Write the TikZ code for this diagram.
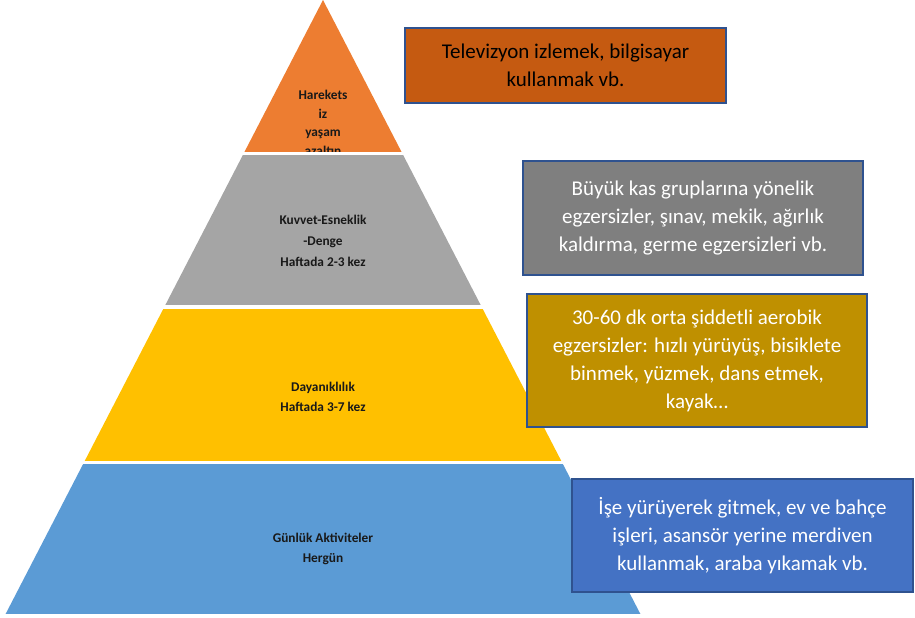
\documentclass[tikz,border=0pt]{standalone}
\usepackage{fontspec}
\setmainfont{Carlito}
\usepackage{xcolor}
\usepackage{tikz}

\definecolor{bandOrange}{HTML}{ED7D31}
\definecolor{bandGray}{HTML}{A5A5A5}
\definecolor{bandYellow}{HTML}{FFC000}
\definecolor{bandBlue}{HTML}{5B9BD5}
\definecolor{boxOrange}{HTML}{C55A11}
\definecolor{boxGray}{HTML}{7F7F7F}
\definecolor{boxGold}{HTML}{BF9000}
\definecolor{boxBlue}{HTML}{4472C4}
\definecolor{boxEdge}{HTML}{2F528F}

\begin{document}
\begin{tikzpicture}[x=0.75pt, y=-0.75pt,
  bandlabel/.style={align=center, font=\fontsize{10}{15}\selectfont\bfseries, text=black!90},
  infobox/.style={draw=boxEdge, line width=1.5pt, align=center, text=white,
    font=\fontsize{15.75}{21}\selectfont, inner sep=0pt}]
  \useasboundingbox (0,0) rectangle (915,618);
  \coordinate (apex) at (323,0);
  \coordinate (baseL) at (5.6,614);
  \coordinate (baseR) at (640.4,614);
  % pyramid bands
  \begin{scope}
    \clip (apex) -- (baseL) -- (baseR) -- cycle;
    \fill[bandOrange] (0,0) rectangle (915,151.5);
    \fill[bandGray] (0,155) rectangle (915,305);
    \fill[bandYellow] (0,309) rectangle (915,460.5);
    \fill[bandBlue] (0,463.5) rectangle (915,614);
  \end{scope}
  \begin{scope}
    \clip (0,0) rectangle (915,151.5);
    \node[bandlabel, font=\fontsize{10}{14}\selectfont\bfseries] (lblTop) at (323,123)
      {Harekets\\iz\\yaşam\\azaltın};
  \end{scope}
  \node[bandlabel, font=\fontsize{10}{15.75}\selectfont\bfseries] (lblStrength) at (323,241)
    {Kuvvet-Esneklik\\-Denge\\Haftada 2-3 kez};
  \node[bandlabel] (lblEndurance) at (323,397) {Dayanıklılık\\Haftada 3-7 kez};
  \node[bandlabel] (lblDaily) at (323,549) {Günlük Aktiviteler\\Hergün};
  % explanation boxes
  \node[infobox, fill=boxOrange, text=black, minimum width=240.75pt, minimum height=56.25pt]
    (boxTop) at (565.5,65.5) {Televizyon izlemek, bilgisayar\\kullanmak vb.};
  \node[infobox, fill=boxGray, minimum width=255pt, minimum height=85.5pt]
    (boxStrength) at (693,218) {Büyük kas gruplarına yönelik\\egzersizler, şınav, mekik, ağırlık\\kaldırma, germe egzersizleri vb.};
  \node[infobox, fill=boxGold, minimum width=255pt, minimum height=99.75pt]
    (boxEndurance) at (697,360.5) {30-60 dk orta şiddetli aerobik\\egzersizler: hızlı yürüyüş, bisiklete\\binmek, yüzmek, dans etmek,\\kayak…};
  \node[infobox, fill=boxBlue, minimum width=255.75pt, minimum height=84.75pt]
    (boxDaily) at (742.5,535.5) {İşe yürüyerek gitmek, ev ve bahçe\\işleri, asansör yerine merdiven\\kullanmak, araba yıkamak vb.};
\end{tikzpicture}
\end{document}
